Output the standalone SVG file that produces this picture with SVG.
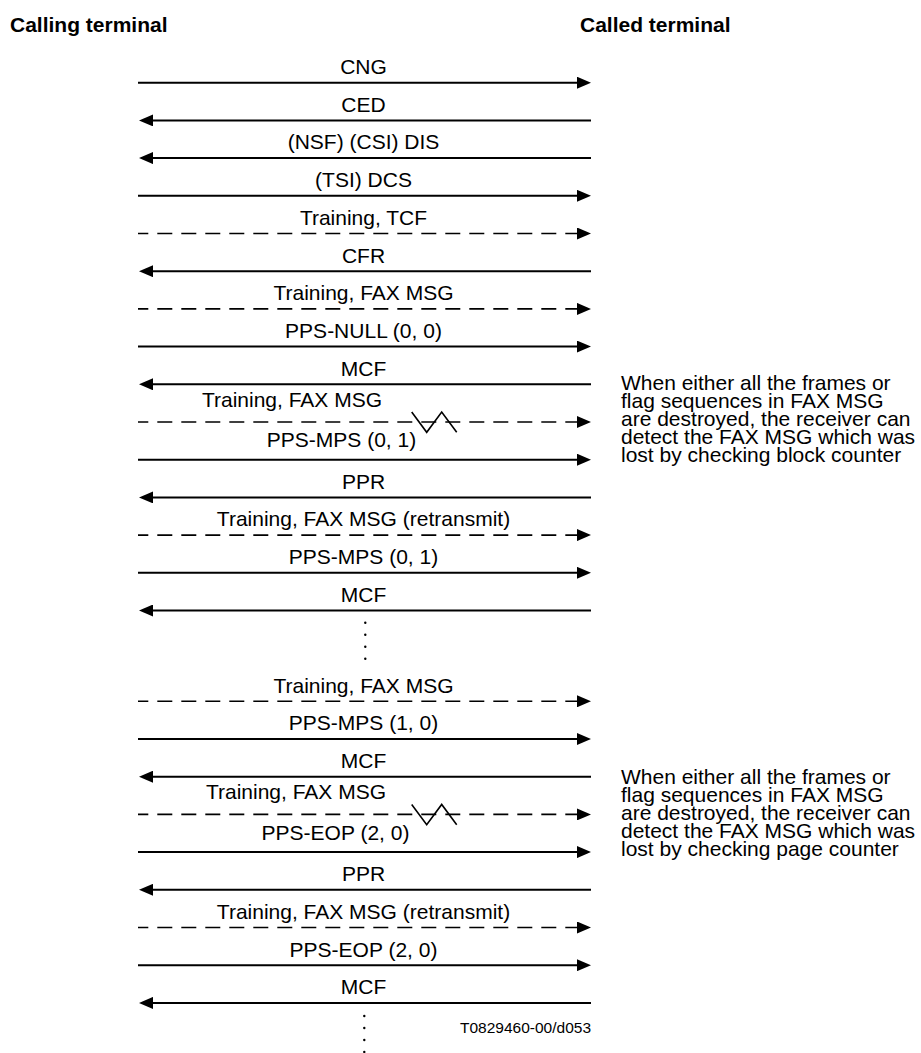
<svg xmlns="http://www.w3.org/2000/svg" width="921" height="1053" viewBox="0 0 921 1053">
<style>
text{font-family:"Liberation Sans",Arial,sans-serif;fill:#000}
.h{font-size:21px;font-weight:bold}
.l{font-size:21px;text-anchor:middle}
.n{font-size:21px}
.f{font-size:15.5px}
.s{stroke:#000;stroke-width:2;fill:none}
.d{stroke:#000;stroke-width:1.6;fill:none;stroke-dasharray:15 9;stroke-dashoffset:4.7}
.z{stroke:#000;stroke-width:1.6;fill:none}
.r{marker-end:url(#ah)}
</style>
<defs>
<marker id="ah" viewBox="0 0 14 12" refX="3" refY="6" markerWidth="14" markerHeight="12" markerUnits="userSpaceOnUse" orient="auto">
<path d="M0,0 L14,6 L0,12 z" style="fill:#000;stroke:none"/>
</marker>
</defs>
<rect width="921" height="1053" fill="#fff"/>
<g id="calling"><text class="h" x="10" y="31.7">Calling terminal</text></g>
<g id="called"><text class="h" x="580" y="31.7">Called terminal</text></g>
<g id="connectors">
<line class="s r" x1="138" y1="82.7" x2="580" y2="82.7"/>
<line class="s r" x1="591" y1="120.4" x2="150" y2="120.4"/>
<line class="s r" x1="591" y1="158.1" x2="150" y2="158.1"/>
<line class="s r" x1="138" y1="195.8" x2="580" y2="195.8"/>
<line class="d r" x1="138" y1="233.5" x2="580" y2="233.5"/>
<line class="s r" x1="591" y1="271.2" x2="150" y2="271.2"/>
<line class="d r" x1="138" y1="308.9" x2="580" y2="308.9"/>
<line class="s r" x1="138" y1="346.6" x2="580" y2="346.6"/>
<line class="s r" x1="591" y1="384.3" x2="150" y2="384.3"/>
<line class="d r" x1="138" y1="422" x2="580" y2="422"/>
<polyline class="z" points="411.7,412 426.7,432.3 441.7,412 456.7,432.3"/>
<line class="s r" x1="138" y1="459.7" x2="580" y2="459.7"/>
<line class="s r" x1="591" y1="497.4" x2="150" y2="497.4"/>
<line class="d r" x1="138" y1="535.1" x2="580" y2="535.1"/>
<line class="s r" x1="138" y1="572.8" x2="580" y2="572.8"/>
<line class="s r" x1="591" y1="610.5" x2="150" y2="610.5"/>
<line class="d r" x1="138" y1="701.3" x2="580" y2="701.3"/>
<line class="s r" x1="138" y1="739" x2="580" y2="739"/>
<line class="s r" x1="591" y1="776.7" x2="150" y2="776.7"/>
<line class="d r" x1="138" y1="814.4" x2="580" y2="814.4"/>
<polyline class="z" points="411.7,804.4 426.7,824.7 441.7,804.4 456.7,824.7"/>
<line class="s r" x1="138" y1="852.1" x2="580" y2="852.1"/>
<line class="s r" x1="591" y1="889.8" x2="150" y2="889.8"/>
<line class="d r" x1="138" y1="927.5" x2="580" y2="927.5"/>
<line class="s r" x1="138" y1="965.2" x2="580" y2="965.2"/>
<line class="s r" x1="591" y1="1002.9" x2="150" y2="1002.9"/>
</g>
<g id="labels">
<text class="l" x="363.5" y="74">CNG</text>
<text class="l" x="363.5" y="111.7">CED</text>
<text class="l" x="363.5" y="149.4">(NSF) (CSI) DIS</text>
<text class="l" x="363.5" y="187.1">(TSI) DCS</text>
<text class="l" x="363.5" y="224.8">Training, TCF</text>
<text class="l" x="363.5" y="262.5">CFR</text>
<text class="l" x="363.5" y="300.2">Training, FAX MSG</text>
<text class="l" x="363.5" y="337.9">PPS-NULL (0, 0)</text>
<text class="l" x="363.5" y="375.6">MCF</text>
<text class="l" x="292" y="406.7">Training, FAX MSG</text>
<text class="l" x="341.5" y="447.2">PPS-MPS (0, 1)</text>
<text class="l" x="363.5" y="488.7">PPR</text>
<text class="l" x="363.5" y="526.4">Training, FAX MSG (retransmit)</text>
<text class="l" x="363.5" y="564.1">PPS-MPS (0, 1)</text>
<text class="l" x="363.5" y="601.8">MCF</text>
<text class="l" x="363.5" y="692.6">Training, FAX MSG</text>
<text class="l" x="363.5" y="730.3">PPS-MPS (1, 0)</text>
<text class="l" x="363.5" y="768">MCF</text>
<text class="l" x="296" y="799.1">Training, FAX MSG</text>
<text class="l" x="335.5" y="839.6">PPS-EOP (2, 0)</text>
<text class="l" x="363.5" y="881.1">PPR</text>
<text class="l" x="363.5" y="918.8">Training, FAX MSG (retransmit)</text>
<text class="l" x="363.5" y="956.5">PPS-EOP (2, 0)</text>
<text class="l" x="363.5" y="994.2">MCF</text>
</g>
<g id="dots1" fill="#000">
<circle cx="365.3" cy="622.7" r="1.2"/><circle cx="365.3" cy="634.7" r="1.2"/><circle cx="365.3" cy="646.7" r="1.2"/><circle cx="365.3" cy="658.7" r="1.2"/>
</g>
<g id="dots2" fill="#000">
<circle cx="364.3" cy="1016" r="1.2"/><circle cx="364.3" cy="1028" r="1.2"/><circle cx="364.3" cy="1040" r="1.2"/><circle cx="364.3" cy="1052" r="1.2"/>
</g>
<g id="note1">
<text class="n"><tspan x="621" y="390">When either all the frames or</tspan><tspan x="621" y="408">flag sequences in FAX MSG</tspan><tspan x="621" y="426">are destroyed, the receiver can</tspan><tspan x="621" y="444">detect the FAX MSG which was</tspan><tspan x="621" y="462">lost by checking block counter</tspan></text>
</g>
<g id="note2">
<text class="n"><tspan x="621" y="784">When either all the frames or</tspan><tspan x="621" y="802">flag sequences in FAX MSG</tspan><tspan x="621" y="820">are destroyed, the receiver can</tspan><tspan x="621" y="838">detect the FAX MSG which was</tspan><tspan x="621" y="856">lost by checking page counter</tspan></text>
</g>
<g id="ref"><text class="f" x="460" y="1033">T0829460-00/d053</text></g>
</svg>
